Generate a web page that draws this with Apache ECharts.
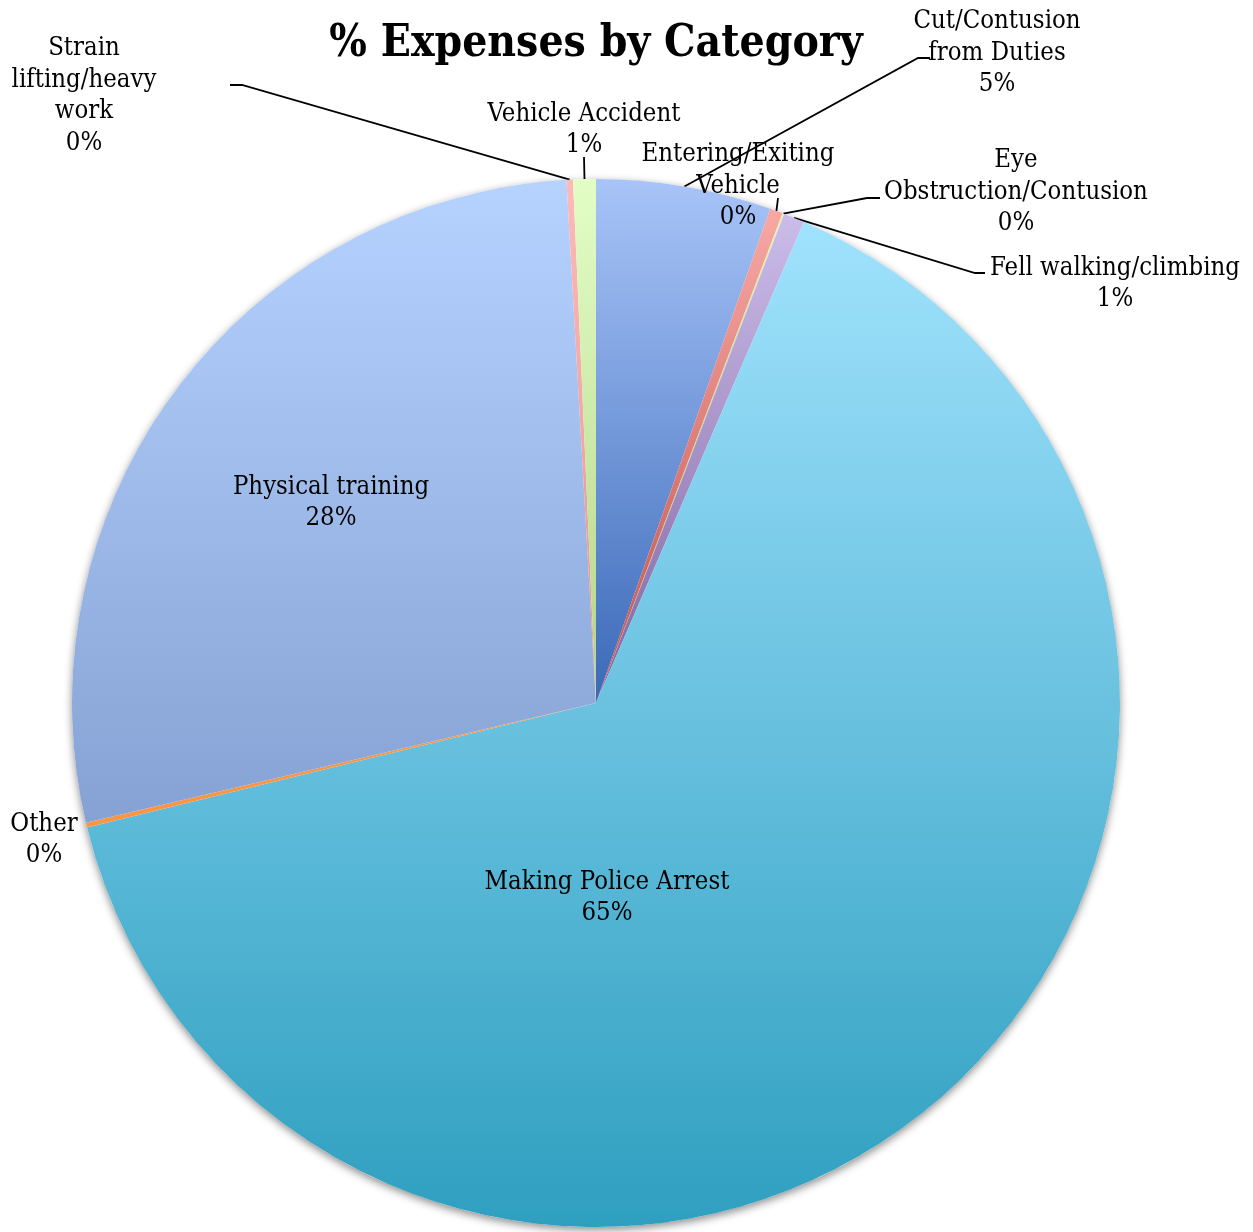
<!DOCTYPE html>
<html>
<head>
<meta charset="utf-8">
<title>% Expenses by Category</title>
<script src="https://cdn.jsdelivr.net/npm/echarts@6/dist/echarts.min.js"></script>
<style>
  html, body { margin: 0; padding: 0; background: #ffffff; }
  #chart { width: 1253px; height: 1232px; }
</style>
</head>
<body>
<div id="chart"></div>
<script>
// Injury categories, in the order the slices run clockwise from 12 o'clock
const categories = [
  'Cut/Contusion from Duties',
  'Entering/Exiting Vehicle',
  'Eye Obstruction/Contusion',
  'Fell walking/climbing',
  'Making Police Arrest',
  'Other',
  'Physical training',
  'Strain lifting/heavy work',
  'Vehicle Accident'
];

// How each category name wraps in its label
const labelText = [
  'Cut/Contusion\nfrom Duties',
  'Entering/Exiting\nVehicle',
  'Eye\nObstruction/Contusion',
  'Fell walking/climbing',
  'Making Police Arrest',
  'Other',
  'Physical training',
  'Strain\nlifting/heavy\nwork',
  'Vehicle Accident'
];

// Share of total expenses (%)
const shares = [5.4, 0.4, 0.05, 0.65, 64.75, 0.15, 27.8, 0.2, 0.7];

// Slice fills: vertical gradient, light at the top of each slice, deeper at the bottom
const fillTop    = ['#a8c4f8', '#f8a8a4', '#e3f6b4', '#cbbce9', '#a0e2fd', '#f79646', '#b6d2ff', '#fcbab8', '#e3fdc6'];
const fillBottom = ['#3a69b8', '#c0504d', '#9bbb59', '#8064a2', '#2f9fc0', '#f79646', '#86a2d4', '#e49290', '#b4d488'];

// Label placement (centre of each text block) and the bends of the leader lines
const labelPos = [[997, 53], [738, 186], [1016, 192], [1115, 284], [607, 898], [44, 840], [331, 503], [84, 96], [584, 130]];
const leaderBends = [
  [[918, 58], [930, 58]],
  [[778, 198]],
  [[867, 198], [880, 198]],
  [[975, 273], [985, 273]],
  null,
  null,
  null,
  [[242, 85], [230, 85]],
  [[584, 157]]
];
const insideLabels = [4, 6];

const FONT = '"DejaVu Serif Condensed", "DejaVu Serif", serif';
const CENTER = [596, 703];
const RADIUS = 524;

const chart = echarts.init(document.getElementById('chart'), null, { renderer: 'canvas' });

const sliceData = categories.map(function (name, i) {
  const inside = insideLabels.indexOf(i) >= 0;
  return {
    name: name,
    value: shares[i],
    itemStyle: {
      color: new echarts.graphic.LinearGradient(0, 0, 0, 1, [
        { offset: 0, color: fillTop[i] },
        { offset: 1, color: fillBottom[i] }
      ])
    },
    label: { position: inside ? 'inside' : 'outside' },
    labelLine: { show: !!leaderBends[i] }
  };
});

chart.setOption({
  backgroundColor: '#ffffff',
  animation: false,
  graphic: [{
    type: 'text',
    x: 596,
    y: 45,
    style: {
      text: '% Expenses by Category',
      font: 'bold 44px ' + FONT,
      fill: '#000000',
      textAlign: 'center',
      textVerticalAlign: 'middle'
    }
  }],
  series: [
    {
      // plain disc underneath, only there to cast the soft drop shadow
      type: 'pie',
      silent: true,
      z: 1,
      center: CENTER,
      radius: RADIUS,
      label: { show: false },
      labelLine: { show: false },
      data: [{
        value: 1,
        itemStyle: {
          color: '#ffffff',
          shadowBlur: 8,
          shadowOffsetY: 3,
          shadowColor: 'rgba(0,0,0,0.45)'
        }
      }]
    },
    {
      type: 'pie',
      z: 2,
      center: CENTER,
      radius: RADIUS,
      startAngle: 90,
      clockwise: true,
      avoidLabelOverlap: false,
      itemStyle: { borderWidth: 0 },
      label: {
        show: true,
        fontFamily: FONT,
        fontSize: 25.5,
        lineHeight: 31.5,
        color: '#000000',
        align: 'center',
        formatter: function (p) {
          return labelText[p.dataIndex] + '\n' + Math.round(p.percent) + '%';
        }
      },
      labelLine: {
        show: true,
        length: 20,
        length2: 10,
        lineStyle: { color: '#000000', width: 1.8 }
      },
      labelLayout: function (p) {
        const i = p.dataIndex;
        const out = {
          x: labelPos[i][0],
          y: labelPos[i][1],
          align: 'center',
          verticalAlign: 'middle',
          hideOverlap: false
        };
        if (leaderBends[i] && p.labelLinePoints) {
          out.labelLinePoints = [p.labelLinePoints[0]].concat(leaderBends[i]);
        }
        return out;
      },
      emphasis: { disabled: true },
      data: sliceData
    }
  ]
});
</script>
</body>
</html>
